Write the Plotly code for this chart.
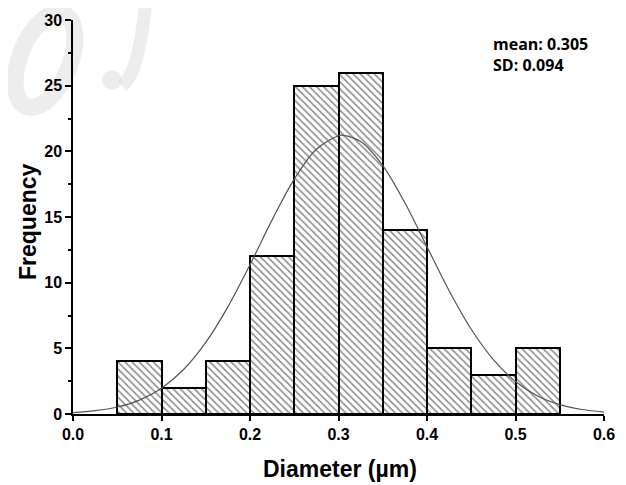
import math
import plotly.graph_objects as go

# Histogram data
bin_left = [0.05, 0.10, 0.15, 0.20, 0.25, 0.30, 0.35, 0.40, 0.45, 0.50]
bin_width = 0.05
counts = [4, 2, 4, 12, 25, 26, 14, 5, 3, 5]

# Fitted normal curve
curve_x = [0.0, 0.025, 0.05, 0.075, 0.10, 0.125, 0.15, 0.175, 0.20, 0.225, 0.25, 0.275,
           0.30, 0.305, 0.325, 0.35, 0.375, 0.40, 0.425, 0.45, 0.475, 0.50, 0.525, 0.55,
           0.575, 0.60]
curve_y = [0.11, 0.25, 0.53, 1.06, 1.97, 3.39, 5.45, 8.16, 11.37, 14.78, 17.88, 20.16,
           21.19, 21.22, 20.75, 18.92, 16.08, 12.73, 9.39, 6.45, 4.14, 2.47, 1.37, 0.71,
           0.34, 0.15]

stats_text = "mean: 0.305<br>SD: 0.094"
x_title = "Diameter (µm)"
y_title = "Frequency"

x_ticks = [0.0, 0.1, 0.2, 0.3, 0.4, 0.5, 0.6]
x_ticklabels = ["0.0", "0.1", "0.2", "0.3", "0.4", "0.5", "0.6"]
y_ticks = [0, 5, 10, 15, 20, 25, 30]

# the page body has an 8px default margin; size the figure to fit the window
OFF = 8
W, H = 626 - OFF, 485 - OFF
L, R, T, B = 73 - OFF, 22, 20 - OFF, 71
PW, PH = W - L - R, H - T - B


def px2paper(px, py):
    """page pixel -> paper coordinates"""
    return (px - OFF - L) / PW, (H - B - (py - OFF)) / PH


centers = [b + bin_width / 2 for b in bin_left]

fig = go.Figure()
fig.add_trace(go.Bar(
    x=centers, y=counts, width=[bin_width] * len(counts),
    marker=dict(
        color="white",
        line=dict(color="black", width=2),
        pattern=dict(shape="\\", fgcolor="#1a1a1a", bgcolor="white",
                     size=5, solidity=0.32, fillmode="overlay"),
    ),
    showlegend=False,
))
fig.add_trace(go.Scatter(
    x=curve_x, y=curve_y, mode="lines", line=dict(color="#555555", width=1.2, shape="spline"),
    showlegend=False,
))

# faint watermark (decorative, below everything)
wm_color = "rgba(215,215,215,0.45)"
cx, cy, rx, ry, ang = 45, 60, 25, 50, math.radians(22)
k = 0.5523


def rot(x, y):
    return (cx + x * math.cos(ang) - y * math.sin(ang), cy + x * math.sin(ang) + y * math.cos(ang))


pts = [(0, -ry), (k * rx, -ry), (rx, -k * ry), (rx, 0), (rx, k * ry), (k * rx, ry), (0, ry),
       (-k * rx, ry), (-rx, k * ry), (-rx, 0), (-rx, -k * ry), (-k * rx, -ry), (0, -ry)]
pp = [px2paper(*rot(x, y)) for x, y in pts]
path = "M %f,%f" % pp[0]
for i in range(1, len(pp), 3):
    path += " C %f,%f %f,%f %f,%f" % (pp[i] + pp[i + 1] + pp[i + 2])
fig.add_shape(type="path", path=path, xref="paper", yref="paper", layer="below",
              line=dict(color=wm_color, width=17))
jp = [px2paper(146, 0), px2paper(142, 40), px2paper(136, 75), px2paper(122, 86)]
fig.add_shape(type="path", xref="paper", yref="paper", layer="below",
              path="M %f,%f C %f,%f %f,%f %f,%f" % (jp[0] + jp[1] + jp[2] + jp[3]),
              line=dict(color=wm_color, width=13))
c0 = px2paper(102, 70)
c1 = px2paper(122, 90)
fig.add_shape(type="circle", xref="paper", yref="paper", layer="below",
              x0=c0[0], y0=c1[1], x1=c1[0], y1=c0[1],
              fillcolor=wm_color, line=dict(width=0))

fig.add_annotation(text="<b>" + stats_text + "</b>", xref="paper", yref="paper",
                   x=px2paper(491, 0)[0], y=px2paper(0, 31)[1], xanchor="left", yanchor="top",
                   align="left", showarrow=False,
                   font=dict(family="Open Sans", size=16, color="black"))

fig.add_annotation(text="<b>" + x_title + "</b>", xref="paper", yref="paper",
                   x=px2paper(340, 0)[0], y=px2paper(0, 469)[1], xanchor="center", yanchor="middle",
                   showarrow=False, font=dict(family="Liberation Sans", size=23, color="black"))
fig.add_annotation(text="<b>" + y_title + "</b>", xref="paper", yref="paper",
                   x=px2paper(28, 0)[0], y=px2paper(0, 222)[1], xanchor="center", yanchor="middle",
                   textangle=-90, showarrow=False,
                   font=dict(family="Liberation Sans", size=23, color="black"))

fig.update_layout(
    width=W, height=H,
    margin=dict(l=L, r=R, t=T, b=B, autoexpand=False),
    paper_bgcolor="white", plot_bgcolor="rgba(0,0,0,0)",
    bargap=0,
    font=dict(family="Liberation Sans", color="black"),
)
fig.update_xaxes(
    range=[0, 0.6], tickvals=x_ticks, ticktext=x_ticklabels, automargin=False,
    showgrid=False, zeroline=False, showline=True, linecolor="black", linewidth=1.5,
    ticks="outside", ticklen=5, tickwidth=1.5, tickcolor="black",
    tickfont=dict(size=16, family="Liberation Sans", weight="bold"),
)
fig.update_yaxes(
    range=[0, 30], tickvals=y_ticks, automargin=False,
    showgrid=False, zeroline=False, showline=True, linecolor="black", linewidth=1.5,
    ticks="outside", ticklen=6, tickwidth=1.5, tickcolor="black",
    minor=dict(tickvals=[2.5, 7.5, 12.5, 17.5, 22.5, 27.5], ticks="outside", ticklen=3,
               tickcolor="black"),
    tickfont=dict(size=16, family="Liberation Sans", weight="bold"),
)

fig.write_html("out.html")
